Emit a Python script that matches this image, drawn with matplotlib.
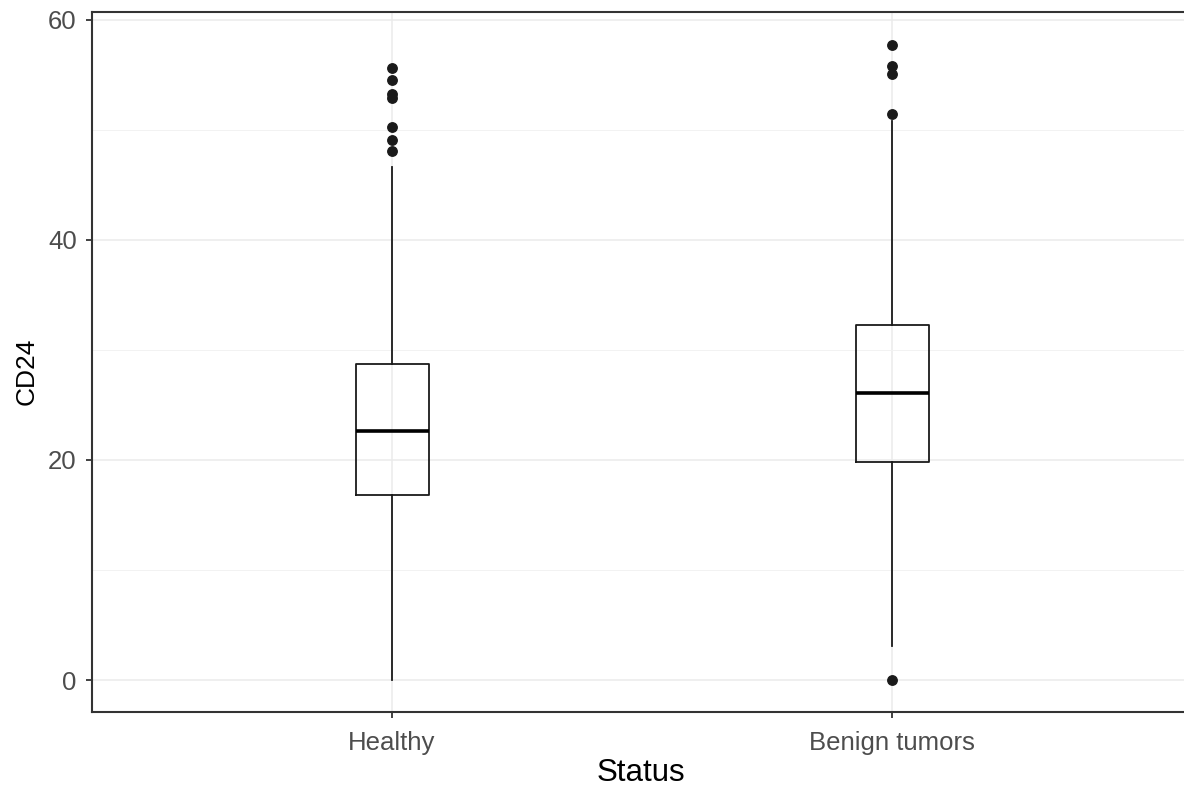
import matplotlib
matplotlib.use("Agg")
import matplotlib.pyplot as plt
from matplotlib.ticker import MultipleLocator

# Data
categories = ["Healthy", "Benign tumors"]
q1 = [16.8, 19.8]
median = [22.6, 26.05]
q3 = [28.7, 32.3]
whisker_low = [0.0, 3.1]
whisker_high = [46.6, 50.8]
outliers_healthy = [55.6, 54.5, 53.2, 52.9, 50.2, 49.1, 48.1]
outliers_benign = [57.7, 55.8, 55.1, 51.4, 0.0]
y_ticks = [0, 20, 40, 60]

plt.rcParams['font.family'] = ['Liberation Sans', 'DejaVu Sans']

fig = plt.figure(figsize=(11.84, 7.87), dpi=100)
ax = fig.add_axes([92/1184, 1 - 712/787, 1100/1184, 700/787])

stats = []
for i, name in enumerate(categories):
    stats.append(dict(label=name, med=median[i], q1=q1[i], q3=q3[i],
                      whislo=whisker_low[i], whishi=whisker_high[i],
                      fliers=[outliers_healthy, outliers_benign][i]))

ax.bxp(stats, positions=[1, 2], widths=0.146, showcaps=False,
       boxprops=dict(color='#1a1a1a', linewidth=1.3),
       whiskerprops=dict(color='#1a1a1a', linewidth=1.3),
       medianprops=dict(color='#000000', linewidth=2.6),
       flierprops=dict(marker='o', markerfacecolor='#1a1a1a', markeredgecolor='#1a1a1a',
                       markersize=6.8, linestyle='none'),
       zorder=3)

ax.set_xlim(0.4, 2.6)
ax.set_ylim(-2.89, 60.69)
ax.set_yticks(y_ticks)
ax.set_yticklabels([str(v) for v in y_ticks])
ax.yaxis.set_minor_locator(MultipleLocator(10))
ax.set_xticks([1, 2])
ax.set_xticklabels(categories)

ax.grid(True, which='major', color='#EBEBEB', linewidth=1.1, zorder=0)
ax.grid(True, which='minor', axis='y', color='#F2F2F2', linewidth=0.7, zorder=0)
ax.set_axisbelow(True)

for s in ax.spines.values():
    s.set_color('#333333')
    s.set_linewidth(1.5)

ax.tick_params(which='major', length=4, width=1.3, color='#333333',
               labelsize=18.5, labelcolor='#4D4D4D')
ax.tick_params(axis='x', which='major', pad=10)
ax.tick_params(axis='y', which='major', pad=7)
ax.tick_params(which='minor', length=0)

ax.set_xlabel("Status", fontsize=22.5, color='black')
ax.set_ylabel("CD24", fontsize=19, color='black')
ax.xaxis.label.set_verticalalignment('center')
ax.yaxis.label.set_verticalalignment('center')
ax.yaxis.label.set_horizontalalignment('center')
ax.xaxis.set_label_coords((641 - 92) / 1100, (712 - 773) / 700)
ax.yaxis.set_label_coords((27 - 92) / 1100, (712 - 371) / 700)

fig.savefig("out.png", dpi=100)
